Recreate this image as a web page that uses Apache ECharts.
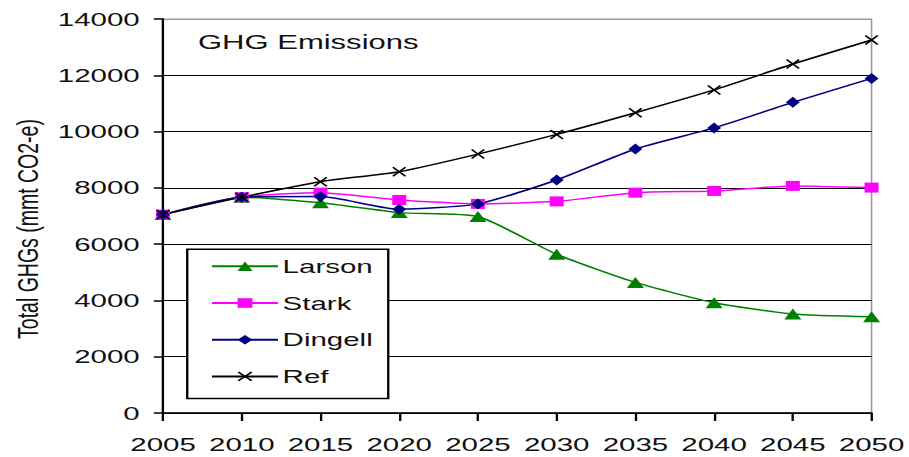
<!DOCTYPE html>
<html>
<head>
<meta charset="utf-8">
<script src="https://cdn.jsdelivr.net/npm/echarts@6/dist/echarts.min.js"></script>
<style>
html,body{margin:0;padding:0;background:#fff;overflow:hidden;}
#c{width:586px;height:457px;transform:scaleX(1.5512);transform-origin:0 0;}
</style>
</head>
<body>
<div id="c"></div>
<script>
var years = ['2005','2010','2015','2020','2025','2030','2035','2040','2045','2050'];
var larson  = [7050, 7670, 7470, 7120, 6980, 5640, 4640, 3920, 3520, 3420];
var stark   = [7050, 7670, 7830, 7570, 7430, 7520, 7830, 7890, 8070, 8010];
var dingell = [7050, 7670, 7690, 7240, 7430, 8280, 9380, 10130, 11040, 11890];
var ref     = [7050, 7670, 8220, 8575, 9200, 9900, 10670, 11480, 12400, 13255];
var yTicks = {min: 0, max: 14000, interval: 2000};

var FONT = '"Liberation Sans", Arial, sans-serif';
var xMark = 'path://M0,1 L1,0 L5,4 L9,0 L10,1 L6,5 L10,9 L9,10 L5,6 L1,10 L0,9 L4,5 Z';

var chart = echarts.init(document.getElementById('c'), null, {renderer: 'svg'});
function mk(name, data, color, symbol, size) {
  return {
    name: name, type: 'line', data: data, smooth: 0.2,
    symbol: symbol, symbolSize: size, showSymbol: true,
    lineStyle: {color: color, width: 1.5},
    itemStyle: {color: color},
    emphasis: {disabled: true},
    animation: false
  };
}
chart.setOption({
  animation: false,
  textStyle: {fontFamily: FONT},
  grid: {left: 105.1, right: 21.9, top: 19, bottom: 44, show: true, borderColor: '#999', borderWidth: 1},
  xAxis: {
    type: 'category', data: years, boundaryGap: false,
    axisLine: {lineStyle: {color: '#000', width: 1.5}},
    axisTick: {show: true, alignWithLabel: true, interval: 0, length: 8, lineStyle: {color: '#000', width: 1.5}},
    axisLabel: {color: '#111', fontSize: 19, margin: 22, interval: 0, hideOverlap: false, fontFamily: FONT},
    splitLine: {show: false}
  },
  yAxis: {
    type: 'value', min: yTicks.min, max: yTicks.max, interval: yTicks.interval,
    axisLine: {show: true, lineStyle: {color: '#000', width: 1.5}},
    axisTick: {show: true, length: 6, lineStyle: {color: '#000', width: 1.5}},
    axisLabel: {color: '#111', fontSize: 19, margin: 15, fontFamily: FONT, formatter: function (v) { return String(v); }},
    splitLine: {show: true, lineStyle: {color: ['#000','#000','#000','#000','#000','#000','#000','#999'], width: 1.2}}
  },
  legend: {
    orient: 'vertical', left: 120.7, top: 249.3,
    data: ['Larson', 'Stark', 'Dingell', 'Ref'],
    backgroundColor: '#fff', borderColor: '#000', borderWidth: 1.5,
    padding: [7, 10, 12, 15], itemGap: 16.7, itemWidth: 42.5, itemHeight: 12,
    textStyle: {fontSize: 19, color: '#111', lineHeight: 20, fontFamily: FONT, padding: [0, 0, 0, -2]},
    selectedMode: false
  },
  graphic: [
    {type: 'text', left: 127.6, top: 32, style: {text: 'GHG Emissions', fontSize: 20, fill: '#111', fontFamily: FONT}},
    {type: 'text', x: 17.7, y: 229, rotation: Math.PI / 2,
     style: {text: 'Total GHGs (mmt CO2-e)', fontSize: 19.5, fill: '#111', fontFamily: FONT, align: 'center', verticalAlign: 'middle'}}
  ],
  series: [
    mk('Larson', larson, '#008000', 'triangle', 11),
    mk('Stark', stark, '#ff00ff', 'rect', [9, 10]),
    mk('Dingell', dingell, '#000080', 'diamond', [9, 11]),
    mk('Ref', ref, '#000', xMark, [9, 10])
  ]
});
</script>
</body>
</html>
